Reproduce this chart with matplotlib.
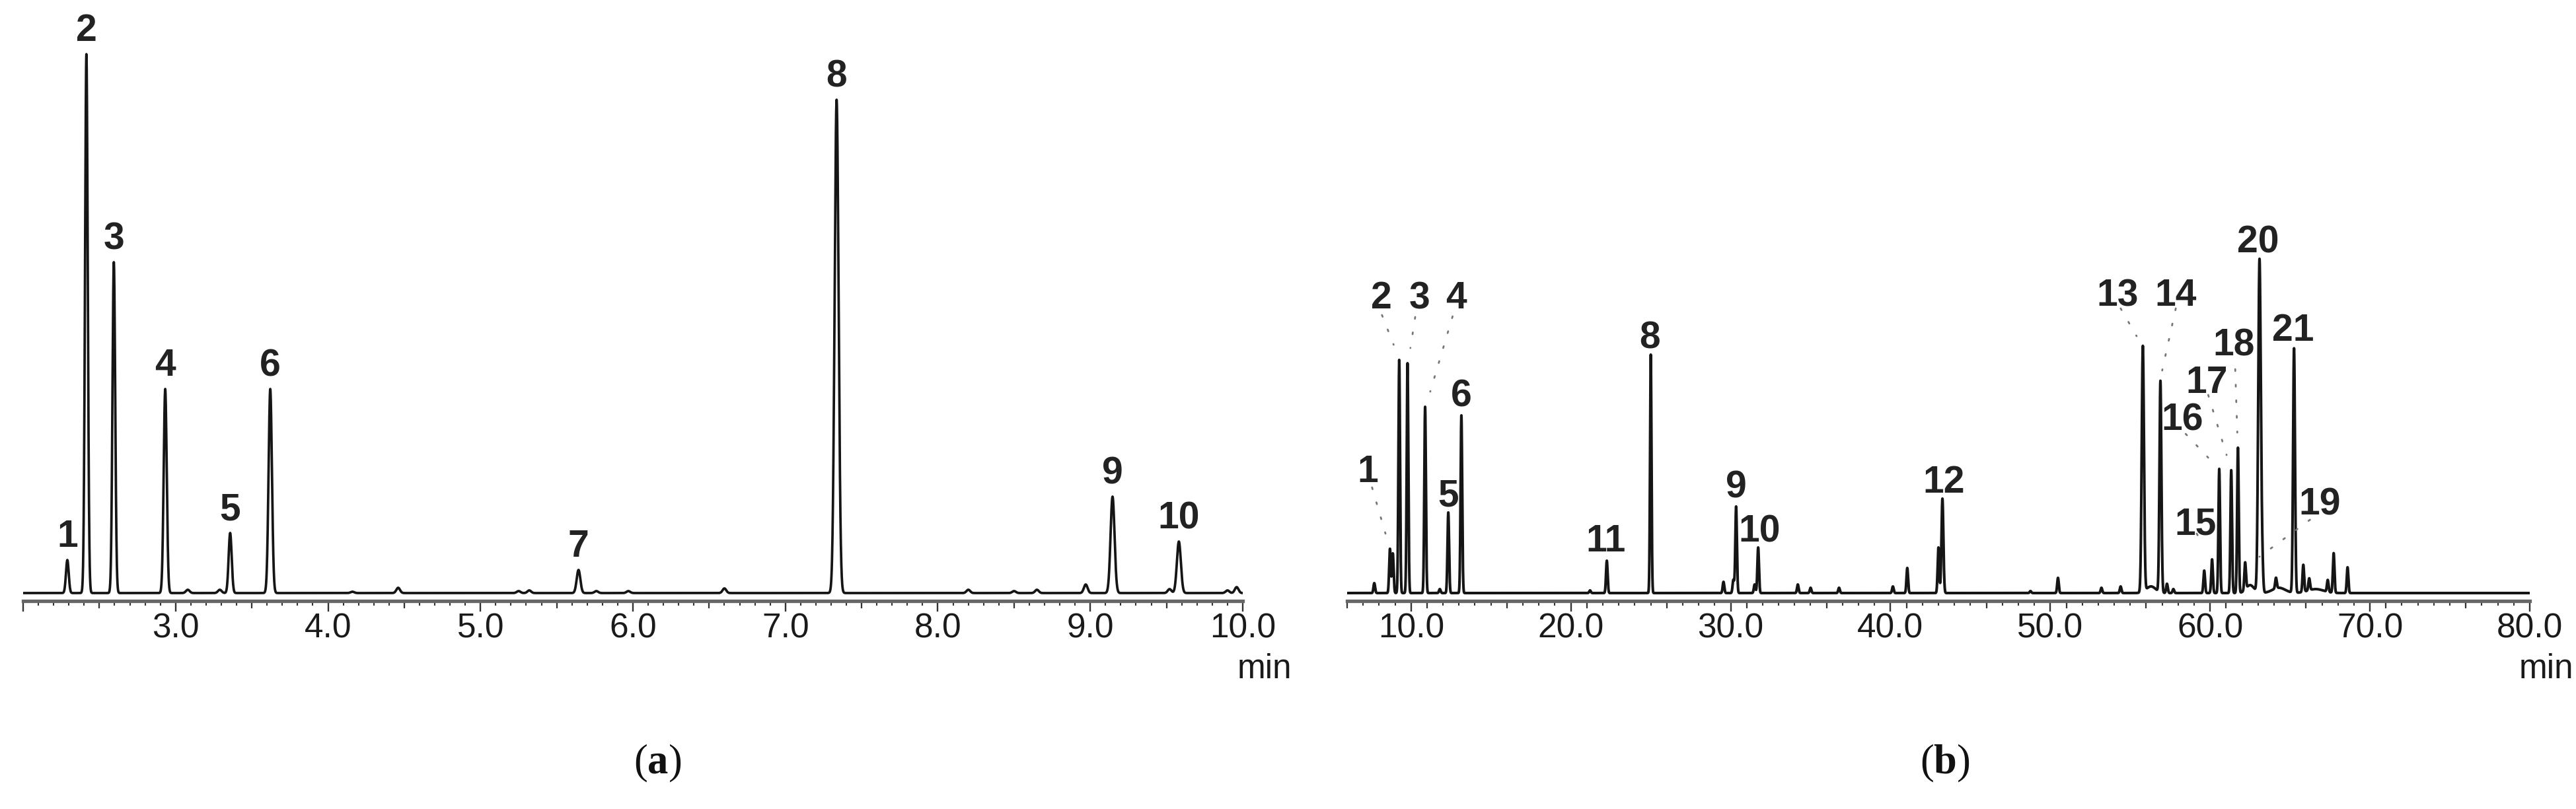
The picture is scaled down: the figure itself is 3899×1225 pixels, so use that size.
import numpy as np
import matplotlib
matplotlib.use('Agg')
import matplotlib.pyplot as plt
from matplotlib.ticker import MultipleLocator, FuncFormatter

plt.rcParams['font.family'] = ['Liberation Sans', 'DejaVu Sans']
plt.rcParams['mathtext.fontset'] = 'custom'
plt.rcParams['mathtext.rm'] = 'Liberation Serif'
plt.rcParams['mathtext.bf'] = 'Liberation Serif:bold'

# ---- chromatogram (a): retention time (min), peak height above baseline, peak sigma (min)
peak_a_label = ['1', '2', '3', '4', '5', '6', '7', '8', '9', '10']
peak_a_time = [2.29, 2.415, 2.595, 2.932, 3.358, 3.621, 5.643, 7.336, 9.146, 9.581]
peak_a_height = [50, 816, 501, 309, 91, 309, 35, 747, 146, 78]
peak_a_sigma = [0.009, 0.009, 0.009, 0.010, 0.010, 0.011, 0.012, 0.013, 0.013, 0.013]

minor_a_time = [3.08, 3.29, 4.16, 4.46, 5.25, 5.32, 5.76, 5.97, 6.60, 8.20, 8.50, 8.65, 8.97, 9.52, 9.90, 9.96]
minor_a_height = [5, 5, 2, 8, 3, 4, 3, 3, 7, 5, 3, 5, 13, 6, 4, 9]

# ---- chromatogram (b)
peak_b_label = ['1', '2', '3', '4', '5', '6', '8', '9', '10', '11', '12',
                '13', '14', '15', '16', '17', '18', '19', '20', '21']
peak_b_time = [8.68, 9.26, 9.78, 10.88, 12.33, 13.15, 25.0, 30.34, 31.72, 22.25, 43.25,
               55.79, 56.89, 59.63, 60.57, 61.32, 61.74, 63.25, 63.09, 65.25]
peak_b_height = [67, 353, 348, 282, 122, 269, 361, 131, 69, 49, 143,
                 372, 320, 34, 188, 186, 220, 45, 504, 370]
peak_b_sigma = [0.05, 0.05, 0.05, 0.05, 0.05, 0.05, 0.045, 0.05, 0.05, 0.05, 0.06,
                0.07, 0.06, 0.05, 0.05, 0.05, 0.05, 0.06, 0.08, 0.06]

minor_b_time = [7.7, 8.86, 11.8, 21.2, 29.55, 30.17, 31.5, 34.2, 35.0, 36.78, 40.15, 41.05,
                43.0, 48.76, 50.48, 53.2, 54.4, 57.3, 57.7, 60.12, 62.19, 64.12, 65.83,
                66.2, 67.36, 67.73, 68.6]
minor_b_height = [15, 60, 6, 4, 17, 20, 13, 13, 8, 8, 10, 38,
                  69, 3, 23, 8, 10, 14, 6, 51, 41, 16, 41,
                  18, 18, 60, 39]

hump_b_time = [56.3, 62.5, 64.3, 66.6]
hump_b_height = [10, 12, 8, 6]
hump_b_sigma = [0.3, 0.25, 0.4, 0.5]

# label placement for (b): text position and dotted leader lines
label_b_pos = {'1': (7.29, 200), '2': (8.13, 463), '3': (10.54, 463), '4': (12.81, 463),
               '5': (12.33, 164), '6': (13.15, 315), '8': (24.93, 403), '9': (30.34, 177),
               '10': (31.82, 110), '11': (22.17, 95), '12': (43.35, 184), '13': (54.2, 467),
               '14': (57.85, 467), '15': (59.09, 121), '16': (58.26, 279), '17': (59.78, 335),
               '18': (61.5, 392), '19': (66.87, 151), '20': (63.0, 548), '21': (65.2, 414)}
leader_b = {'1': (7.56, 172, 8.40, 102), '2': (8.18, 433, 8.91, 388),
            '3': (10.26, 430, 9.96, 383), '4': (12.60, 431, 11.20, 317),
            '13': (54.4, 443, 55.4, 401), '14': (57.85, 443, 57.0, 349),
            '15': (59.16, 102, 59.63, 82), '16': (58.47, 253, 59.88, 217),
            '17': (59.88, 312, 61.03, 221), '18': (61.57, 351, 61.70, 255),
            '19': (66.25, 123, 63.09, 67)}

BASE = 12
TRACE = '#151515'
LABEL_FS = 41
TICK_FS = 37


def trace(t, times, heights, sigmas):
    y = np.full_like(t, BASE, dtype=float)
    for tc, h, s in zip(times, heights, sigmas):
        y += h * np.exp(-0.5 * ((t - tc) / s) ** 2)
    return y


def style_axis(ax, x0, x1, major, mid, minor, first_label):
    ax.set_xlim(x0, x1)
    ax.set_ylim(0, 890)
    for s in ['left', 'right', 'top']:
        ax.spines[s].set_visible(False)
    ax.spines['bottom'].set_color('#666666')
    ax.spines['bottom'].set_linewidth(3.8)
    ax.set_yticks([])
    ax.patch.set_alpha(0)
    ax.xaxis.set_major_locator(MultipleLocator(major))
    ax.xaxis.set_minor_locator(MultipleLocator(minor))
    ax.xaxis.set_major_formatter(FuncFormatter(
        lambda v, _: '' if v < first_label - 1e-9 else f'{v:.1f}'))
    ax.tick_params(axis='x', which='major', length=11.5, width=1.7, color='#333333',
                   pad=1, labelsize=TICK_FS, labelcolor='#1a1a1a')
    ax.tick_params(axis='x', which='minor', length=5, width=1.5, color='#333333')
    for m in np.arange(x0, x1 + 1e-9, mid):
        if abs(m / major - round(m / major)) > 1e-6:
            ax.plot([m, m], [0, -10 / 890], color='#333333', lw=1.6,
                    transform=ax.get_xaxis_transform(), clip_on=False)


fig = plt.figure(figsize=(38.99, 12.25), dpi=100)
ax_a = fig.add_axes([0.00898, 0.25714, 0.47345, 0.72653])
ax_b = fig.add_axes([0.52295, 0.25714, 0.45910, 0.72653])

# (a)
t_a = np.linspace(2.0, 10.0, 8001)
y_a = trace(t_a, peak_a_time + minor_a_time, peak_a_height + minor_a_height,
            peak_a_sigma + [0.012] * len(minor_a_time))
ax_a.plot(t_a, y_a, color=TRACE, lw=2.7, solid_joinstyle='round')
style_axis(ax_a, 2.0, 10.0, 1.0, 0.5, 0.1, 3.0)
for lab, tc, h in zip(peak_a_label, peak_a_time, peak_a_height):
    ax_a.text(tc, BASE + h + 20, lab, ha='center', va='baseline', fontsize=LABEL_FS,
              fontweight='bold', color='#222222')
ax_a.text(10.32, -103 / 890, 'min', transform=ax_a.get_xaxis_transform(),
          ha='right', va='center', fontsize=TICK_FS, color='#1a1a1a')

# (b)
t_b = np.linspace(6.0, 80.0, 14801)
y_b = trace(t_b, peak_b_time + minor_b_time + hump_b_time,
            peak_b_height + minor_b_height + hump_b_height,
            peak_b_sigma + [0.05] * len(minor_b_time) + hump_b_sigma)
ax_b.plot(t_b, y_b, color=TRACE, lw=2.9, solid_joinstyle='round')
style_axis(ax_b, 6.0, 80.0, 10.0, 5.0, 1.0, 10.0)
for lab in peak_b_label:
    tx, ty = label_b_pos[lab]
    ax_b.text(tx, ty - 20, lab, ha='center', va='baseline', fontsize=LABEL_FS,
              fontweight='bold', color='#222222')
for lab, (x0, y0, x1, y1) in leader_b.items():
    ax_b.plot([x0, x1], [y0, y1], color='#777777', lw=2.0, ls=(0, (1, 7.5)),
              dash_capstyle='round')
ax_b.text(82.75, -103 / 890, 'min', transform=ax_b.get_xaxis_transform(),
          ha='right', va='center', fontsize=TICK_FS, color='#1a1a1a')

fig.text(0.2552, 0.0563, r'$\mathrm{(}\mathbf{a}\mathrm{)}$', ha='center', va='center',
         fontsize=45, color='#111111')
fig.text(0.7551, 0.0563, r'$\mathrm{(}\mathbf{b}\mathrm{)}$', ha='center', va='center',
         fontsize=45, color='#111111')

fig.savefig('out.png', dpi=100, facecolor='white')
